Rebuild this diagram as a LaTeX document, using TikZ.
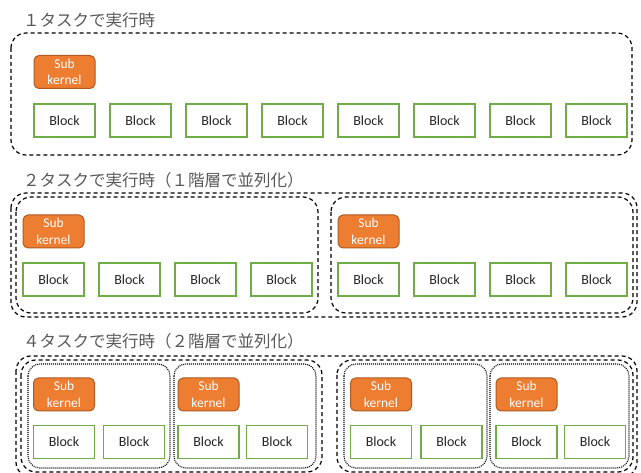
\documentclass[tikz,border=0pt]{standalone}
\usepackage{fontspec}
\setmainfont{Carlito}
\newfontfamily\jpfont{Noto Sans CJK JP}
\definecolor{blkgreen}{HTML}{70AD47}
\definecolor{skfill}{HTML}{ED7D31}
\definecolor{skdraw}{HTML}{AE5A21}
\definecolor{titlegray}{HTML}{595959}
\definecolor{txtdark}{HTML}{262626}
\tikzset{
  blockbox/.style={draw=blkgreen, line width=1.1pt, fill=white, minimum width=61pt, minimum height=33pt, inner sep=0pt, text=txtdark, font=\fontsize{14}{16}\selectfont},
  subk/.style={draw=skdraw, line width=1pt, fill=skfill, rounded corners=5pt, minimum width=61pt, minimum height=33pt, inner sep=0pt, text=white, align=center, font=\fontsize{13.5}{16.5}\selectfont},
  dframe/.style={draw=black, line width=1.2pt, dash pattern=on 4pt off 3pt, rounded corners=15pt},
  pframe/.style={draw=black, line width=1.1pt, dash pattern=on 1pt off 1pt, rounded corners=12pt},
  titletext/.style={anchor=west, inner sep=0pt, text=titlegray, font=\jpfont\fontsize{16.5}{18}\selectfont}
}
\begin{document}
\begin{tikzpicture}[x=1pt,y=-1pt]
\useasboundingbox (0,0) rectangle (641,473);
% ---------- section 1 ----------
\node[titletext] (t1) at (23,20) {１タスクで実行時};
\draw[dframe] (11,33) rectangle (632,155);
\node[subk] (s1k) at (64.5,72) {Sub\\kernel};
\foreach \i in {0,...,7}{
  \node[blockbox] (s1b\i) at (64.5+76*\i,120.5) {Block};
}
% ---------- section 2 ----------
\node[titletext] (t2) at (23,180) {２タスクで実行時（１階層で並列化）};
\draw[dframe] (11,193) rectangle (637,317);
\draw[dframe] (16,197) rectangle (318,313);
\draw[dframe] (331,197) rectangle (633,313);
\node[subk] (s2ka) at (53.5,231.5) {Sub\\kernel};
\node[subk] (s2kb) at (368.5,231.5) {Sub\\kernel};
\foreach \i in {0,...,3}{
  \node[blockbox] (s2a\i) at (53.5+76*\i,279.5) {Block};
  \node[blockbox] (s2b\i) at (368.5+76*\i,279.5) {Block};
}
% ---------- section 3 ----------
\node[titletext] (t3) at (23,341) {４タスクで実行時（２階層で並列化）};
\draw[dframe] (16,356) rectangle (637,477);
\draw[dframe] (21,360) rectangle (322,472);
\draw[dframe] (337,360) rectangle (633,472);
\draw[pframe] (28,364) rectangle (170,468);
\draw[pframe] (174,364) rectangle (316,468);
\draw[pframe] (344,364) rectangle (487,468);
\draw[pframe] (490,364) rectangle (629,468);
\node[subk] (s3k1) at (64,394.5) {Sub\\kernel};
\node[subk] (s3k2) at (208.5,394.5) {Sub\\kernel};
\node[subk] (s3k3) at (381,394.5) {Sub\\kernel};
\node[subk] (s3k4) at (526.5,394.5) {Sub\\kernel};
\node[blockbox] (s3b1) at (64,442) {Block};
\node[blockbox] (s3b2) at (134,442) {Block};
\node[blockbox] (s3b3) at (208.5,442) {Block};
\node[blockbox] (s3b4) at (277,442) {Block};
\node[blockbox] (s3b5) at (381,442) {Block};
\node[blockbox] (s3b6) at (451.5,442) {Block};
\node[blockbox] (s3b7) at (526.5,442) {Block};
\node[blockbox] (s3b8) at (595,442) {Block};
\end{tikzpicture}
\end{document}
